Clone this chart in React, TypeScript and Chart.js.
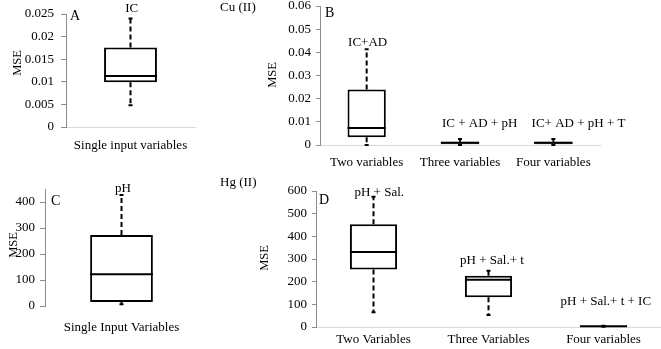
import React, { useEffect, useRef } from "react";
import { Chart, registerables } from "chart.js";

Chart.register(...registerables);

const SERIF = "'Liberation Serif', 'Times New Roman', serif";

// ---------- Panel A : Cu(II), single input ----------
const catsA = ["Single input variables"];
const minA = [0.0048];
const q1A = [0.0099];
const medA = [0.0113];
const q3A = [0.0176];
const maxA = [0.024];
const ticksA = [0, 0.005, 0.01, 0.015, 0.02, 0.025];
const groupsA = ["IC"];

// ---------- Panel B : Cu(II), combinations ----------
const catsB = ["Two variables", "Three variables", "Four variables"];
const minB = [0, 0, 0];
const q1B = [0.0033, 0.0003, 0.0003];
const medB = [0.0073, 0.001, 0.001];
const q3B = [0.024, 0.0014, 0.0014];
const maxB = [0.0413, 0.0026, 0.0026];
const ticksB = [0, 0.01, 0.02, 0.03, 0.04, 0.05, 0.06];
const groupsB = ["IC+AD", "IC + AD + pH", "IC+ AD + pH + T"];

// ---------- Panel C : Hg(II), single input ----------
const catsC = ["Single Input Variables"];
const minC = [7];
const q1C = [15];
const medC = [122];
const q3C = [273];
const maxC = [427];
const ticksC = [0, 100, 200, 300, 400];
const groupsC = ["pH"];

// ---------- Panel D : Hg(II), combinations ----------
const catsD = ["Two Variables", "Three Variables", "Four variables"];
const minD = [65, 53, 1];
const q1D = [254, 131, 2];
const medD = [331, 209, 3];
const q3D = [453, 226, 4];
const maxD = [575, 248, 5];
const ticksD = [0, 100, 200, 300, 400, 500, 600];
const groupsD = ["pH + Sal.", "pH + Sal.+ t", "pH + Sal.+ t + IC"];

type Panel = {
  left: number; top: number; width: number; height: number;
  padding: { top: number; right: number; bottom: number; left: number };
  yWidth: number; xHeight: number; yMax: number;
  tickLen: number; tickPad: number; xPad: number;
  titleX: number; titleY: number;
  xBorder: boolean;
  cats: string[]; min: number[]; q1: number[]; med: number[]; q3: number[]; max: number[];
  ticks: number[]; groups: string[];
  groupPos: [number, number][];
  fills: string[]; borderWidths: number[];
  letter: string; letterDx: number; letterDy: number;
  header?: string;
};

const panels: Panel[] = [
  {
    left: 0, top: 0, width: 215, height: 175,
    padding: { top: 14, right: 20, bottom: 0, left: 0 },
    yWidth: 66, xHeight: 48, yMax: 0.025,
    tickLen: 5, tickPad: 7, xPad: 11, titleX: 18, titleY: 63, xBorder: true,
    cats: catsA, min: minA, q1: q1A, med: medA, q3: q3A, max: maxA,
    ticks: ticksA, groups: groupsA, groupPos: [[0.01, 0.0263]],
    fills: ["#ffffff"], borderWidths: [2],
    letter: "A", letterDx: 4, letterDy: 2,
  },
  {
    left: 220, top: 0, width: 441, height: 175,
    padding: { top: 6, right: 61, bottom: 0, left: 0 },
    yWidth: 100, xHeight: 30, yMax: 0.06,
    tickLen: 4, tickPad: 5, xPad: 10, titleX: 53, titleY: 75, xBorder: true,
    cats: catsB, min: minB, q1: q1B, med: medB, q3: q3B, max: maxB,
    ticks: ticksB, groups: groupsB, groupPos: [[0.01, 0.0443], [1.21, 0.0094], [2.27, 0.0094]],
    fills: ["#ffffff", "#bfbfbf", "#bfbfbf"], borderWidths: [2, 1, 1],
    letter: "B", letterDx: 5, letterDy: 7, header: "Cu (II)",
  },
  {
    left: 0, top: 175, width: 215, height: 174,
    padding: { top: 14, right: 17, bottom: 0, left: 0 },
    yWidth: 45, xHeight: 43, yMax: 450,
    tickLen: 5, tickPad: 5, xPad: 14, titleX: 14, titleY: 70, xBorder: false,
    cats: catsC, min: minC, q1: q1C, med: medC, q3: q3C, max: maxC,
    ticks: ticksC, groups: groupsC, groupPos: [[0.01, 453]],
    fills: ["#ffffff"], borderWidths: [2],
    letter: "C", letterDx: 6, letterDy: 12,
  },
  {
    left: 220, top: 175, width: 441, height: 174,
    padding: { top: 16, right: 0, bottom: 0, left: 0 },
    yWidth: 96, xHeight: 22, yMax: 600,
    tickLen: 4, tickPad: 5, xPad: 5, titleX: 45, titleY: 83, xBorder: true,
    cats: catsD, min: minD, q1: q1D, med: medD, q3: q3D, max: maxD,
    ticks: ticksD, groups: groupsD, groupPos: [[0.05, 591], [1.03, 291], [2.02, 110]],
    fills: ["#ffffff", "#ffffff", "#ffffff"], borderWidths: [2, 2, 2],
    letter: "D", letterDx: 3, letterDy: 9, header: "Hg (II)",
  },
];

const fmt = (v: number) => String(parseFloat(Number(v).toPrecision(6)));

function BoxPanel({ cfg }: { cfg: Panel }) {
  const ref = useRef<HTMLCanvasElement>(null);
  useEffect(() => {
    if (!ref.current) return;
    const boxPlugin = {
      id: "boxExtras",
      afterDatasetsDraw(chart: any) {
        const { ctx, chartArea } = chart;
        const xs = chart.scales.x;
        const ys = chart.scales.y;
        const meta = chart.getDatasetMeta(0);
        ctx.save();
        cfg.cats.forEach((_, i) => {
          const bar: any = meta.data[i];
          const x = bar.x;
          const hw = bar.width / 2;
          const yMin = ys.getPixelForValue(cfg.min[i]);
          const yQ1 = ys.getPixelForValue(cfg.q1[i]);
          const yMed = ys.getPixelForValue(cfg.med[i]);
          const yQ3 = ys.getPixelForValue(cfg.q3[i]);
          const yMax = ys.getPixelForValue(cfg.max[i]);
          ctx.strokeStyle = "#000";
          ctx.lineWidth = 2;
          ctx.setLineDash([5, 3]);
          ctx.beginPath();
          ctx.moveTo(x, yQ3);
          ctx.lineTo(x, yMax);
          ctx.moveTo(x, yQ1);
          ctx.lineTo(x, yMin);
          ctx.stroke();
          ctx.setLineDash([]);
          ctx.beginPath();
          ctx.moveTo(x - 2, yMax);
          ctx.lineTo(x + 2, yMax);
          ctx.moveTo(x - 2, yMin);
          ctx.lineTo(x + 2, yMin);
          ctx.stroke();
          ctx.beginPath();
          ctx.moveTo(x - hw, yMed);
          ctx.lineTo(x + hw, yMed);
          ctx.stroke();
        });
        ctx.fillStyle = "#000";
        ctx.font = `13px ${SERIF}`;
        ctx.textAlign = "center";
        ctx.textBaseline = "middle";
        cfg.groups.forEach((g, i) => {
          const [xi, yv] = cfg.groupPos[i];
          ctx.fillText(g, xs.getPixelForValue(xi), ys.getPixelForValue(yv));
        });
        ctx.font = `14px ${SERIF}`;
        ctx.textAlign = "left";
        ctx.fillText(cfg.letter, chartArea.left + cfg.letterDx, chartArea.top + cfg.letterDy);
        if (cfg.header) {
          ctx.font = `13px ${SERIF}`;
          ctx.fillText(cfg.header, 0, 8);
        }
        // y axis title
        ctx.save();
        ctx.translate(cfg.titleX, cfg.titleY);
        ctx.rotate(-Math.PI / 2);
        ctx.font = `12.5px ${SERIF}`;
        ctx.textAlign = "center";
        ctx.fillText("MSE", 0, 0);
        ctx.restore();
        ctx.restore();
      },
    };
    const font = { family: SERIF, size: 13 };
    const chart = new Chart(ref.current, {
      type: "bar",
      data: {
        labels: cfg.cats,
        datasets: [
          {
            data: cfg.q1.map((v, i) => [v, cfg.q3[i]]) as any,
            backgroundColor: cfg.fills,
            borderColor: "#000",
            borderWidth: cfg.borderWidths,
            borderSkipped: false,
            barPercentage: 0.41,
            categoryPercentage: 1,
          },
        ],
      },
      options: {
        responsive: false,
        animation: false,
        devicePixelRatio: 1,
        layout: { padding: cfg.padding },
        plugins: { legend: { display: false }, tooltip: { enabled: false } },
        scales: {
          x: {
            grid: { display: false, drawTicks: false },
            border: { display: cfg.xBorder, color: "#d9d9d9", width: 1 },
            ticks: { font, color: "#000", padding: cfg.xPad, maxRotation: 0, autoSkip: false },
            afterFit: (s: any) => {
              s.height = cfg.xHeight;
              s.paddingLeft = 0;
              s.paddingRight = 0;
            },
          },
          y: {
            min: 0,
            max: cfg.yMax,
            afterBuildTicks: (s: any) => { s.ticks = cfg.ticks.map((v) => ({ value: v })); },
            ticks: { font, color: "#000", padding: cfg.tickPad, callback: (v: any) => fmt(v) },
            grid: { drawOnChartArea: false, drawTicks: true, tickLength: cfg.tickLen, color: "#8c8c8c" },
            border: { display: true, color: "#8c8c8c", width: 1 },
            title: { display: false, text: "MSE" },
            afterFit: (s: any) => {
              s.width = cfg.yWidth;
              s.paddingTop = 0;
              s.paddingBottom = 0;
            },
          },
        },
      },
      plugins: [boxPlugin],
    });
    return () => chart.destroy();
  }, [cfg]);
  return (
    <canvas
      ref={ref}
      width={cfg.width}
      height={cfg.height}
      style={{ position: "absolute", left: cfg.left, top: cfg.top, width: cfg.width, height: cfg.height }}
    />
  );
}

export default function App() {
  return (
    <div style={{ position: "absolute", left: 0, top: 0, width: 661, height: 349, background: "#fff" }}>
      {panels.map((p, i) => (
        <BoxPanel key={i} cfg={p} />
      ))}
    </div>
  );
}
